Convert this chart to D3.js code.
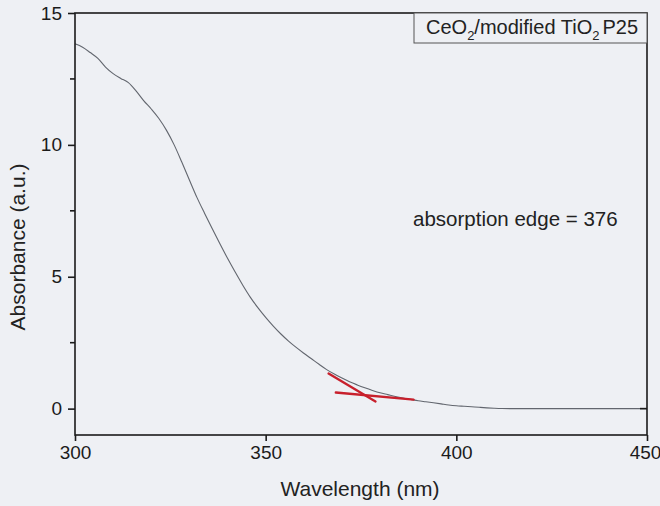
<!DOCTYPE html>
<html>
<head>
<meta charset="utf-8">
<script src="https://cdn.jsdelivr.net/npm/d3@7"></script>
<style>
  html, body { margin: 0; padding: 0; background: #eef0f4; }
  svg { display: block; font-family: Arial, "Liberation Sans", sans-serif; }
</style>
</head>
<body>
<svg id="chart" width="660" height="506"></svg>
<script>
// UV-Vis absorbance spectrum of CeO2 / modified TiO2 P25
const wavelength = [300, 302, 304, 306, 308, 310, 312, 314, 316, 318, 320, 322, 324, 326, 328, 330, 332, 334, 336, 338, 340, 342, 344, 346, 348, 350, 352, 354, 356, 358, 360, 362, 364, 366, 368, 370, 372, 374, 376, 378, 380, 382, 384, 386, 388, 390, 392, 394, 396, 398, 400, 402, 404, 406, 408, 410, 412, 415, 420, 425, 430, 435, 440, 445, 450];
const absorbance = [13.83, 13.7, 13.5, 13.28, 12.95, 12.7, 12.52, 12.36, 12.05, 11.68, 11.36, 11.0, 10.55, 10.0, 9.35, 8.67, 8.0, 7.4, 6.82, 6.25, 5.7, 5.18, 4.68, 4.22, 3.82, 3.46, 3.13, 2.83, 2.56, 2.32, 2.1, 1.89, 1.68, 1.48, 1.31, 1.16, 1.02, 0.9, 0.79, 0.69, 0.6, 0.53, 0.46, 0.4, 0.35, 0.3, 0.26, 0.22, 0.18, 0.14, 0.11, 0.09, 0.07, 0.05, 0.03, 0.015, 0.005, 0.0, 0.0, 0.0, 0.0, 0.0, 0.0, 0.0, 0.0];

// Hand-drawn tangent lines used to locate the absorption edge
const tangentSteep = [[366.5, 1.33], [378.8, 0.27]];
const tangentBase = [[368.4, 0.61], [388.8, 0.34]];

const xTicks = [300, 350, 400, 450];
const yTicks = [0, 5, 10, 15];
const yMinorTicks = [2.5, 7.5, 12.5];

const svg = d3.select("#chart");
const plotLeft = 75, plotRight = 647, plotTop = 13, plotBottom = 435;

const x = d3.scaleLinear().domain([300, 450]).range([plotLeft, plotRight]);
const y = d3.scaleLinear().domain([-1, 15]).range([plotBottom, plotTop]);

const ink = "#1b1b1b";
const font = "Arial, 'Liberation Sans', sans-serif";

// Curve
const line = d3.line().x(d => x(d[0])).y(d => y(d[1])).curve(d3.curveMonotoneX);
svg.append("path")
  .datum(wavelength.map((w, i) => [w, absorbance[i]]))
  .attr("d", line)
  .attr("fill", "none")
  .attr("stroke", "#62666e")
  .attr("stroke-width", 1.1);

// Tangents
const tline = d3.line().x(d => x(d[0])).y(d => y(d[1]));
[tangentSteep, tangentBase].forEach(seg => {
  svg.append("path")
    .attr("d", tline(seg))
    .attr("fill", "none")
    .attr("stroke", "#c8202c")
    .attr("stroke-width", 2.4)
    .attr("stroke-linecap", "round");
});

// Frame
svg.append("rect")
  .attr("x", plotLeft).attr("y", plotTop)
  .attr("width", plotRight - plotLeft).attr("height", plotBottom - plotTop)
  .attr("fill", "none").attr("stroke", ink).attr("stroke-width", 1.6);

// Bottom axis
const xAxis = d3.axisBottom(x).tickValues(xTicks).tickSize(6).tickPadding(5).tickFormat(d3.format("d"));
const gx = svg.append("g").attr("transform", `translate(0,${plotBottom})`).call(xAxis);
gx.select(".domain").remove();
gx.selectAll(".tick line").attr("stroke", ink).attr("stroke-width", 1.6);
gx.selectAll(".tick text").attr("font-size", 19).attr("fill", ink).attr("font-family", font);
// keep the last label inside the page edge
gx.selectAll(".tick text").filter(d => d === 450).attr("dx", -2);

// Left axis
const yAxis = d3.axisLeft(y).tickValues(yTicks).tickSize(7).tickPadding(6).tickFormat(d3.format("d"));
const gy = svg.append("g").attr("transform", `translate(${plotLeft},0)`).call(yAxis);
gy.select(".domain").remove();
gy.selectAll(".tick line").attr("stroke", ink).attr("stroke-width", 1.6);
gy.selectAll(".tick text").attr("font-size", 19).attr("fill", ink).attr("font-family", font);

// Minor ticks on left axis
svg.append("g").selectAll("line").data(yMinorTicks).join("line")
  .attr("x1", plotLeft - 5).attr("x2", plotLeft)
  .attr("y1", d => y(d)).attr("y2", d => y(d))
  .attr("stroke", ink).attr("stroke-width", 1.6);

// Right axis inward tick at zero
svg.append("g").selectAll("line").data([0]).join("line")
  .attr("x1", plotRight - 7).attr("x2", plotRight)
  .attr("y1", d => y(d)).attr("y2", d => y(d))
  .attr("stroke", ink).attr("stroke-width", 1.6);

// Axis titles
svg.append("text")
  .attr("x", 360).attr("y", 496)
  .attr("text-anchor", "middle")
  .attr("font-size", 21).attr("fill", "#222")
  .text("Wavelength (nm)");

svg.append("text")
  .attr("transform", "translate(25,247) rotate(-90)")
  .attr("text-anchor", "middle")
  .attr("font-size", 21).attr("fill", "#222")
  .text("Absorbance (a.u.)");

// Legend box
svg.append("rect")
  .attr("x", 414).attr("y", plotTop)
  .attr("width", plotRight - 414).attr("height", 30)
  .attr("fill", "#eef0f4").attr("stroke", "#555").attr("stroke-width", 1);

const legend = svg.append("text")
  .attr("x", 426).attr("y", 34)
  .attr("font-size", 20).attr("fill", "#222");
legend.append("tspan").text("CeO");
legend.append("tspan").attr("font-size", 13).attr("dy", 6).text("2");
legend.append("tspan").attr("dy", -6).text("/modified TiO");
legend.append("tspan").attr("font-size", 13).attr("dy", 6).text("2");
legend.append("tspan").attr("dy", -6).attr("dx", 3).text("P25");

// Annotation
svg.append("text")
  .attr("x", 413).attr("y", 226)
  .attr("font-size", 20.5).attr("fill", "#222")
  .text("absorption edge = 376");
</script>
</body>
</html>
